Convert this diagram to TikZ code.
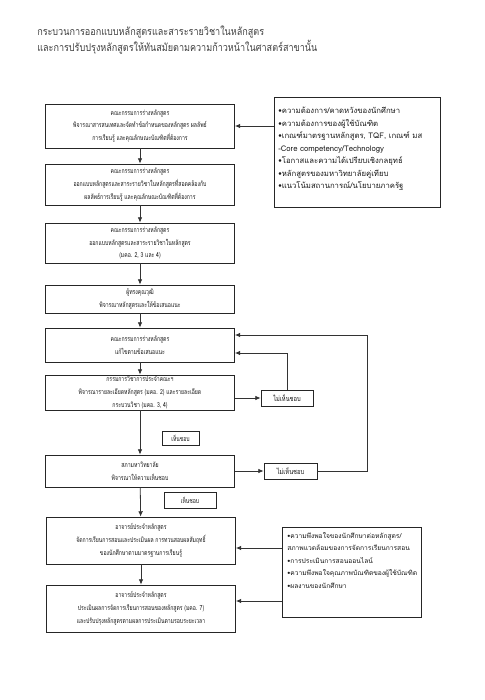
\documentclass[tikz,border=0pt]{standalone}
\usepackage{fontspec}
\newfontfamily\thaifont[Script=Thai]{Loma}
\newfontfamily\thainarrow[Script=Thai, FakeStretch=0.74]{Loma}
\newfontfamily\thaismall[Script=Thai, FakeStretch=0.8]{Loma}
\newfontfamily\thaititle[Script=Thai, FakeStretch=0.85]{Loma}
\usetikzlibrary{arrows.meta}
\begin{document}
\begin{tikzpicture}[x=0.75pt,y=-0.75pt,
  box/.style={draw=black!85, line width=0.6pt, align=center, inner sep=0pt,
    font=\thainarrow\fontsize{5.2}{9.5}\selectfont, text=black!90},
  sbox/.style={draw=black!85, line width=0.6pt, align=center, inner sep=0pt,
    font=\thaismall\fontsize{5.4}{9.5}\selectfont, text=black!90},
  rbox/.style={draw=black!85, line width=0.6pt, inner sep=0pt},
  rtext/.style={anchor=north west, inner sep=0pt, align=left, text=black!90},
  arr/.style={draw=black!80, line width=0.6pt, -{Latex[length=4pt,width=3.5pt]}}]
\useasboundingbox[fill=white] (0,0) rectangle (485,700);
% title
\node[anchor=west, inner sep=0pt, align=left, text=black!75,
  font=\thaititle\fontsize{8}{12}\selectfont] (title) at (37,40)
  {กระบวนการออกแบบหลักสูตรและสาระรายวิชาในหลักสูตร\\
   และการปรับปรุงหลักสูตรให้ทันสมัยตามความก้าวหน้าในศาสตร์สาขานั้น};
% main boxes
\node[box, minimum width=141.75pt, minimum height=33pt] (b1) at (140,126)
  {คณะกรรมการร่างหลักสูตร\\พิจารณาสารสนเทศและจัดทำข้อกำหนดของหลักสูตร ผลลัพธ์\\การเรียนรู้ และคุณลักษณะบัณฑิตที่ต้องการ};
\node[box, minimum width=141.75pt, minimum height=30.75pt] (b2) at (140,184.5)
  {คณะกรรมการร่างหลักสูตร\\ออกแบบหลักสูตรและสาระรายวิชาในหลักสูตรที่สอดคล้องกับ\\ผลลัพธ์การเรียนรู้ และคุณลักษณะบัณฑิตที่ต้องการ};
\node[box, minimum width=141.75pt, minimum height=30pt] (b3) at (140,243)
  {คณะกรรมการร่างหลักสูตร\\ออกแบบหลักสูตรและสาระรายวิชาในหลักสูตร\\(มคอ. 2, 3 และ 4)};
\node[box, minimum width=141.75pt, minimum height=21pt] (b4) at (140,299)
  {ผู้ทรงคุณวุฒิ\\พิจารณาหลักสูตรและให้ข้อเสนอแนะ};
\node[box, minimum width=141.75pt, minimum height=25.5pt] (b5) at (140,345)
  {คณะกรรมการร่างหลักสูตร\\แก้ไขตามข้อเสนอแนะ};
\node[box, minimum width=141.75pt, minimum height=26.25pt] (b6) at (140,392.5)
  {กรรมการวิชาการประจำคณะฯ\\พิจารณารายละเอียดหลักสูตร (มคอ. 2) และรายละเอียด\\กระบวนวิชา (มคอ. 3, 4)};
\node[box, minimum width=141.75pt, minimum height=24pt] (b7) at (140,471)
  {สภามหาวิทยาลัย\\พิจารณาให้ความเห็นชอบ};
\node[box, minimum width=141.75pt, minimum height=35.25pt] (b8) at (141,540.5)
  {อาจารย์ประจำหลักสูตร\\จัดการเรียนการสอนและประเมินผล การทวนสอบผลสัมฤทธิ์\\ของนักศึกษาตามมาตรฐานการเรียนรู้};
\node[box, minimum width=141.75pt, minimum height=35.25pt] (b9) at (141,608.5)
  {อาจารย์ประจำหลักสูตร\\ประเมินผลการจัดการเรียนการสอนของหลักสูตร (มคอ. 7)\\และปรับปรุงหลักสูตรตามผลการประเมินตามรอบระยะเวลา};
% small boxes
\node[sbox, minimum width=39pt, minimum height=12pt] (n1) at (287,398) {ไม่เห็นชอบ};
\node[box, minimum width=27.75pt, minimum height=10.5pt] (y1) at (180.5,438) {เห็นชอบ};
\node[sbox, minimum width=39.75pt, minimum height=12pt] (n2) at (290.5,471) {ไม่เห็นชอบ};
\node[box, minimum width=39pt, minimum height=12pt] (y2) at (190,500) {เห็นชอบ};
% right boxes
\node[rbox, minimum width=124.5pt, minimum height=82.5pt, anchor=north west] (r1) at (274,97) {};
\node[rtext, font=\thaifont\fontsize{5.8}{9.4}\selectfont] (r1t) at (278,107)
  {•ความต้องการ/คาดหวังของนักศึกษา\\•ความต้องการของผู้ใช้บัณฑิต\\•เกณฑ์มาตรฐานหลักสูตร, TQF, เกณฑ์ มส\\-Core competency/Technology\\•โอกาสและความได้เปรียบเชิงกลยุทธ์\\•หลักสูตรของมหาวิทยาลัยคู่เทียบ\\•แนวโน้มสถานการณ์/นโยบายภาครัฐ};
\node[rbox, minimum width=104.25pt, minimum height=67.5pt, anchor=north west] (r2) at (282,527) {};
\node[rtext, font=\thaifont\fontsize{5}{9.4}\selectfont] (r2t) at (287,532)
  {•ความพึงพอใจของนักศึกษาต่อหลักสูตร/\\สภาพแวดล้อมของการจัดการเรียนการสอน\\•การประเมินการสอนออนไลน์\\•ความพึงพอใจคุณภาพบัณฑิตของผู้ใช้บัณฑิต\\•ผลงานของนักศึกษา};
% coordinates
\coordinate (in5a) at (b5.east |- 0,335);
\coordinate (in5b) at (b5.east |- 0,353);
\coordinate (rt) at (367,335);
\coordinate (in8) at (b8.east |- 0,548);
\coordinate (in9) at (b9.east |- 0,601);
% connectors
\draw[arr] (r1.west |- b1.east) -- (b1.east);
\draw[arr] (b1) -- (b2);
\draw[arr] (b2) -- (b3);
\draw[arr] (b3) -- (b4);
\draw[arr] (b4) -- (b5);
\draw[arr] (b5) -- (b6);
\draw[arr] (b6) -- (b7);
\draw[arr] (b7) -- (b8);
\draw[arr] (b8) -- (b9);
\draw[arr] (b6.east |- n1.west) -- (n1.west);
\draw[arr] (n1.north) |- (in5b);
\draw[arr] (b7.east) -- (n2.west);
\draw[arr] (n2.east) -| (rt) -- (in5a);
\draw[arr] (in8 -| r2.west) -- (in8);
\draw[arr] (in9 -| r2.west) -- (in9);
\end{tikzpicture}
\end{document}
